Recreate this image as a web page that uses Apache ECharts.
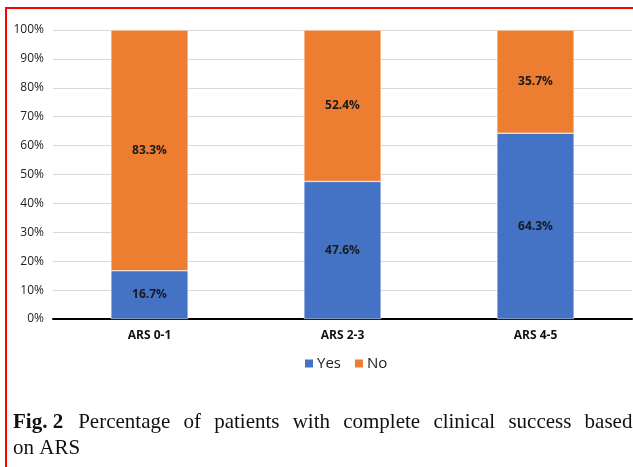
<!DOCTYPE html>
<html><head><meta charset="utf-8">
<script src="https://cdn.jsdelivr.net/npm/echarts@6/dist/echarts.min.js"></script>
<style>html,body{margin:0;padding:0;background:#fff}#c{width:633px;height:467px}</style>
</head><body><div id="c"></div>
<script>
const categories = ['ARS 0-1', 'ARS 2-3', 'ARS 4-5'];
const yesValues = [16.7, 47.6, 64.3];
const noValues = [83.3, 52.4, 35.7];
const seriesNames = ['Yes', 'No'];
const captionBold = 'Fig. 2';
const captionLine1 = 'Percentage of patients with complete clinical success based';
const captionLine2 = 'on ARS';

const chart = echarts.init(document.getElementById('c'), null, {renderer: 'canvas'});
const lbl = {show: true, position: 'inside', formatter: p => p.value.toFixed(1) + '%', color: '#1a1a1a', fontWeight: 'bold', fontSize: 12, fontFamily: 'Open Sans'};
const line1Rich = captionLine1.split(' ').map(w => '{n|' + w + '}').join('{sp| }');
chart.setOption({
  animation: false,
  grid: {left: 53, right: 1, top: 30, bottom: 148},
  legend: {data: seriesNames, left: 298, top: 351, itemWidth: 10, itemHeight: 10, itemGap: 12,
    icon: 'rect', textStyle: {fontSize: 15, color: '#222', fontFamily: 'Open Sans', padding: [0, 0, 0, -2]}},
  xAxis: {type: 'category', data: categories,
    axisLine: {lineStyle: {color: '#000', width: 2}}, axisTick: {show: false},
    axisLabel: {fontWeight: 'bold', fontSize: 12, color: '#111', margin: 11, fontFamily: 'Open Sans'}},
  yAxis: {type: 'value', min: 0, max: 100, interval: 10,
    axisLabel: {formatter: '{value}%', fontSize: 12, color: '#222', margin: 9, fontFamily: 'Open Sans'},
    splitLine: {lineStyle: {color: '#d9d9d9', width: 1}}, axisLine: {show: false}, axisTick: {show: false}},
  series: [
    {name: seriesNames[0], type: 'bar', stack: 'a', data: yesValues, barWidth: '40%',
      itemStyle: {color: '#4472C4', borderColor: '#fff', borderWidth: 0.5}, label: lbl},
    {name: seriesNames[1], type: 'bar', stack: 'a', data: noValues, barWidth: '40%',
      itemStyle: {color: '#ED7D31', borderColor: '#fff', borderWidth: 0.5}, label: lbl}
  ],
  graphic: [
    {type: 'rect', shape: {x: 6, y: 8, width: 700, height: 600}, style: {fill: 'none', stroke: '#ff0000', lineWidth: 2}, silent: true, z: 100},
    {type: 'text', left: 13, top: 412, style: {
      text: '{b|' + captionBold + '}{g| }' + line1Rich + '\n{n|' + captionLine2 + '}',
      rich: {
        b: {fontFamily: 'Liberation Serif', fontWeight: 'bold', fontSize: 21, fill: '#111', lineHeight: 26},
        n: {fontFamily: 'Liberation Serif', fontSize: 21, fill: '#111', lineHeight: 26},
        sp: {fontFamily: 'Liberation Serif', fontSize: 21, width: 13.2, lineHeight: 26},
        g: {fontFamily: 'Liberation Serif', fontSize: 21, width: 15, lineHeight: 26}
      }}}
  ]
});
</script></body></html>
